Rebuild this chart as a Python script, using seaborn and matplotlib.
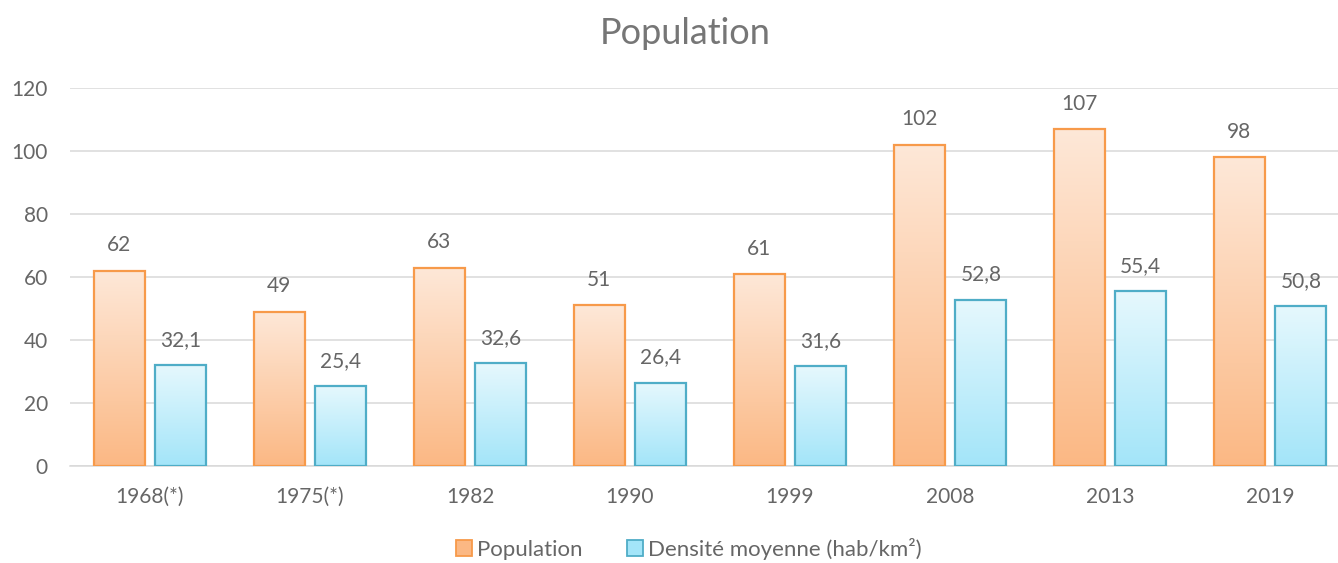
import numpy as np
import pandas as pd
import matplotlib
matplotlib.use("Agg")
import matplotlib.pyplot as plt
import seaborn as sns
from matplotlib.colors import LinearSegmentedColormap
from matplotlib.patches import Patch

# Recensements
years = ["1968(*)", "1975(*)", "1982", "1990", "1999", "2008", "2013", "2019"]
population = [62, 49, 63, 51, 61, 102, 107, 98]
densite = [32.1, 25.4, 32.6, 26.4, 31.6, 52.8, 55.4, 50.8]
series_names = ["Population", "Densité moyenne (hab/km²)"]

df = pd.DataFrame({
    "annee": years * 2,
    "valeur": population + densite,
    "serie": [series_names[0]] * len(years) + [series_names[1]] * len(years),
})

sns.set_theme(style="white")
plt.rcParams["font.family"] = ["Lato", "DejaVu Sans"]

TXT = "#666666"
styles = {
    series_names[0]: dict(top="#FEE8D8", bottom="#FBB884", edge="#F79A4A"),
    series_names[1]: dict(top="#E6F8FD", bottom="#A3E5F9", edge="#4FADC7"),
}

fig = plt.figure(figsize=(13.38, 5.63), dpi=100)
ax = fig.add_axes([0.0523, 0.1723, 0.9567, 0.6714])

palette = {k: v["bottom"] for k, v in styles.items()}
sns.barplot(data=df, x="annee", y="valeur", hue="serie", palette=palette,
            width=0.77, gap=0.17, ax=ax, legend=False, errorbar=None)

ax.set_ylim(0, 120)
ax.set_xlim(-0.5, len(years) - 0.5)

# Replace flat fills with vertical gradients
for container, name in zip(ax.containers, series_names):
    st = styles[name]
    cmap = LinearSegmentedColormap.from_list(name, [st["bottom"], st["top"]])
    grad = np.linspace(0, 1, 256).reshape(-1, 1)
    for bar, val in zip(container, df[df.serie == name]["valeur"]):
        x0, w, h = bar.get_x(), bar.get_width(), bar.get_height()
        im = ax.imshow(grad, cmap=cmap, origin="lower", aspect="auto",
                       extent=(x0, x0 + w, 0, h), zorder=2)
        im.set_clip_path(bar)
        bar.set_facecolor("none")
        bar.set_edgecolor(st["edge"])
        bar.set_linewidth(1.6)
        bar.set_zorder(3)
        label = f"{val:g}".replace(".", ",")
        ax.annotate(label, (x0 + w / 2, h), xytext=(0, 11),
                    textcoords="offset points", ha="center", va="bottom",
                    fontsize=15, color=TXT)

ax.set_aspect("auto")
ax.set_yticks(range(0, 121, 20))
ax.yaxis.grid(True, color="#D9D9D9", linewidth=1.1)
ax.set_axisbelow(True)
for s in ["left", "right", "top"]:
    ax.spines[s].set_visible(False)
ax.spines["bottom"].set_color("#D9D9D9")
ax.spines["bottom"].set_linewidth(1.1)
ax.tick_params(axis="y", length=0, pad=16, labelsize=15, labelcolor=TXT)
ax.tick_params(axis="x", length=0, pad=15, labelsize=15, labelcolor=TXT)
ax.set_xlabel("")
ax.set_ylabel("")

fig.text(0.512, 0.94, "Population", ha="center", va="center",
         fontsize=26, color="#767676")

handles = [Patch(facecolor=styles[n]["bottom"], edgecolor=styles[n]["edge"],
                 linewidth=1.3, label=n) for n in series_names]
fig.legend(handles=handles, loc="center", bbox_to_anchor=(0.515, 0.025),
           ncol=2, frameon=False, fontsize=16, labelcolor=TXT,
           handlelength=0.7, handleheight=0.7, handletextpad=0.25,
           columnspacing=2.0)

fig.savefig("out.png", dpi=100)
